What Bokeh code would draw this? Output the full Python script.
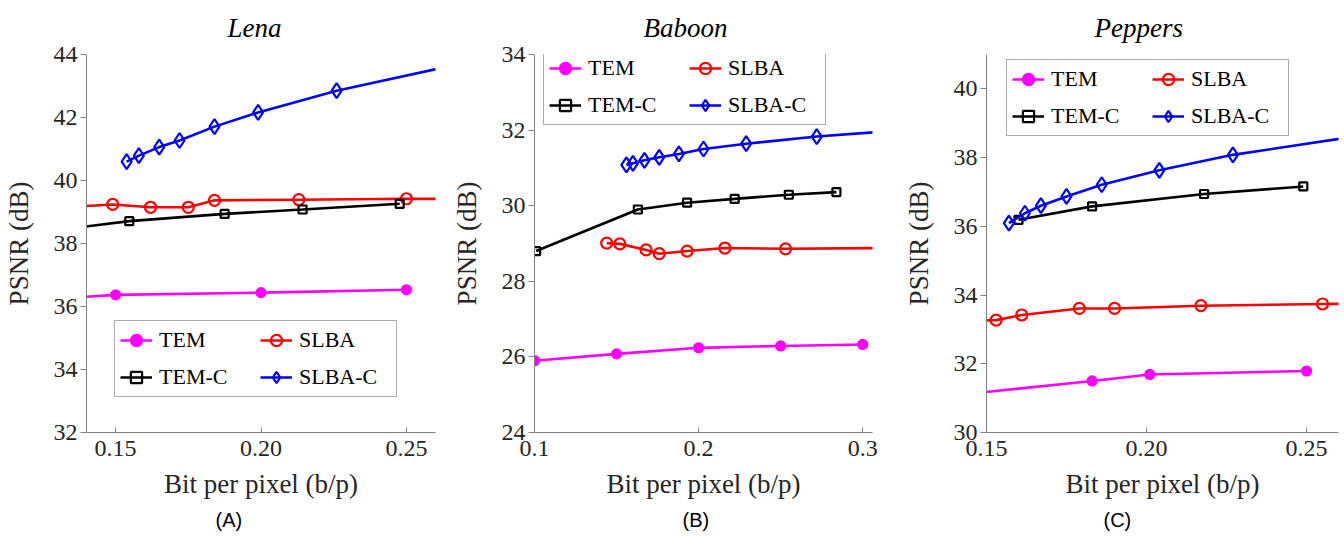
from bokeh.plotting import figure
from bokeh.layouts import row
from bokeh.models import FixedTicker, Range1d, Legend, LegendItem, Title
from bokeh.embed import file_html
from bokeh.resources import INLINE

# ---------------- data ----------------
series_names = ["TEM", "SLBA", "TEM-C", "SLBA-C"]

# Lena
lena_tem_x = [0.10, 0.15, 0.20, 0.25]
lena_tem_y = [36.07, 36.37, 36.44, 36.53]
lena_slba_x = [0.13, 0.149, 0.162, 0.175, 0.184, 0.213, 0.250, 0.30]
lena_slba_y = [39.14, 39.24, 39.15, 39.15, 39.37, 39.39, 39.42, 39.40]
lena_temc_x = [0.125, 0.1547, 0.1875, 0.2143, 0.2477]
lena_temc_y = [38.37, 38.71, 38.94, 39.08, 39.26]
lena_slbac_x = [0.1538, 0.158, 0.165, 0.172, 0.184, 0.199, 0.226, 0.30]
lena_slbac_y = [40.60, 40.79, 41.06, 41.27, 41.71, 42.16, 42.85, 44.33]

# Baboon
baboon_tem_x = [0.100, 0.150, 0.200, 0.250, 0.300]
baboon_tem_y = [25.90, 26.08, 26.24, 26.29, 26.33]
baboon_slba_x = [0.144, 0.152, 0.168, 0.176, 0.193, 0.216, 0.253, 0.35]
baboon_slba_y = [29.01, 28.99, 28.83, 28.73, 28.80, 28.88, 28.86, 28.89]
baboon_temc_x = [0.101, 0.163, 0.193, 0.222, 0.255, 0.284]
baboon_temc_y = [28.80, 29.90, 30.08, 30.18, 30.29, 30.36]
baboon_slbac_x = [0.156, 0.160, 0.167, 0.176, 0.188, 0.203, 0.229, 0.272, 0.35]
baboon_slbac_y = [31.08, 31.12, 31.20, 31.28, 31.37, 31.50, 31.64, 31.83, 32.08]

# Peppers
peppers_tem_x = [0.10, 0.183, 0.201, 0.25]
peppers_tem_y = [30.70, 31.50, 31.69, 31.79]
peppers_slba_x = [0.14, 0.153, 0.161, 0.179, 0.190, 0.217, 0.255, 0.30]
peppers_slba_y = [33.22, 33.27, 33.42, 33.61, 33.61, 33.69, 33.74, 33.76]
peppers_temc_x = [0.160, 0.183, 0.218, 0.249]
peppers_temc_y = [36.19, 36.58, 36.94, 37.16]
peppers_slbac_x = [0.157, 0.162, 0.167, 0.175, 0.186, 0.204, 0.227, 0.30]
peppers_slbac_y = [36.09, 36.38, 36.60, 36.87, 37.21, 37.63, 38.08, 39.10]

lena_xticks = [0.15, 0.20, 0.25]
lena_xlabels = ["0.15", "0.20", "0.25"]
lena_yticks = [32, 34, 36, 38, 40, 42, 44]
baboon_xticks = [0.1, 0.2, 0.3]
baboon_xlabels = ["0.1", "0.2", "0.3"]
baboon_yticks = [24, 26, 28, 30, 32, 34]
peppers_xticks = [0.15, 0.20, 0.25]
peppers_xlabels = ["0.15", "0.20", "0.25"]
peppers_yticks = [30, 32, 34, 36, 38, 40]

SERIF = "Liberation Serif"
AX = "#808080"
TXT = "#262626"


def panel(title, sub, xr, yr, xticks, xlabels, yticks, data, borders, legend_pos,
          title_off, sub_off):
    bl, br = borders
    p = figure(width=448, height=538, output_backend="svg", toolbar_location=None,
               x_range=Range1d(*xr), y_range=Range1d(*yr),
               min_border_left=bl, min_border_right=br,
               min_border_top=54, min_border_bottom=106)
    p.outline_line_color = None
    p.xgrid.visible = False
    p.ygrid.visible = False
    p.background_fill_color = "white"

    p.title.text = title
    p.title.align = "left"
    p.title.offset = title_off
    p.title.vertical_align = "top"
    p.title.text_font = SERIF
    p.title.text_font_style = "italic"
    p.title.text_font_size = "27px"
    p.title.text_color = "black"
    p.title.standoff = 20

    for ax in (p.xaxis[0], p.yaxis[0]):
        ax.axis_line_color = AX
        ax.major_tick_line_color = AX
        ax.minor_tick_line_color = None
        ax.major_label_text_font = SERIF
        ax.major_label_text_font_size = "24px"
        ax.major_label_text_color = TXT
        ax.axis_label_text_font = SERIF
        ax.axis_label_text_font_size = "27px"
        ax.axis_label_text_font_style = "normal"
        ax.axis_label_text_color = TXT

    p.xaxis.ticker = FixedTicker(ticks=xticks)
    p.xaxis.major_label_overrides = {t: l for t, l in zip(xticks, xlabels)}
    p.xaxis.major_tick_in = 5
    p.xaxis.major_tick_out = 0
    p.xaxis.major_label_standoff = 8
    p.xaxis.axis_label = "Bit per pixel (b/p)"
    p.xaxis.axis_label_standoff = 10

    p.yaxis.ticker = FixedTicker(ticks=yticks)
    p.yaxis.major_tick_in = 0
    p.yaxis.major_tick_out = 6
    p.yaxis.major_label_standoff = 3
    p.yaxis.axis_label = "PSNR (dB)"
    p.yaxis.axis_label_standoff = 17

    styles = {
        "TEM": dict(color="#FF00FF", marker="circle", size=9, fill="#FF00FF"),
        "SLBA": dict(color="#FF0000", marker="circle", size=11, fill=None),
        "TEM-C": dict(color="#000000", marker="square", size=8, fill=None),
        "SLBA-C": dict(color="#0000FF", marker="diamond", size=15, fill=None),
    }
    items = {}
    for name in series_names:
        xs, ys = data[name]
        st = styles[name]
        lr = p.line(xs, ys, line_color=st["color"], line_width=2.6)
        sr = p.scatter(xs, ys, marker=st["marker"], size=st["size"],
                       line_color=st["color"], line_width=2.2,
                       fill_color=st["fill"])
        items[name] = LegendItem(label=name, renderers=[lr, sr])

    # column-major fill: first column TEM, TEM-C; second column SLBA, SLBA-C
    leg = Legend(items=[items["TEM"], items["TEM-C"], items["SLBA"], items["SLBA-C"]],
                 ncols=2, location=legend_pos)
    leg.label_text_font = SERIF
    leg.label_text_font_size = "22px"
    leg.label_text_color = "black"
    leg.glyph_width = 32
    leg.glyph_height = 28
    leg.label_height = 28
    leg.label_width = 92
    leg.label_standoff = 7
    leg.spacing = 9
    leg.padding = 5
    leg.margin = 0
    leg.border_line_color = "#595959"
    leg.border_line_width = 1
    leg.background_fill_color = "white"
    leg.background_fill_alpha = 1
    p.add_layout(leg, "center")

    sub_t = Title(text=sub, align="left", offset=sub_off, vertical_align="bottom",
                  text_font="Liberation Sans", text_font_size="20px",
                  text_font_style="normal", text_color="black", standoff=11)
    p.add_layout(sub_t, "below")
    return p


pA = panel("Lena", "(A)", (0.14, 0.26), (32, 44), lena_xticks, lena_xlabels, lena_yticks,
           {"TEM": (lena_tem_x, lena_tem_y), "SLBA": (lena_slba_x, lena_slba_y),
            "TEM-C": (lena_temc_x, lena_temc_y), "SLBA-C": (lena_slbac_x, lena_slbac_y)},
           (84, 13), (28, 35), 141, 129)
pB = panel("Baboon", "(B)", (0.1, 0.306), (24, 34), baboon_xticks, baboon_xlabels, baboon_yticks,
           {"TEM": (baboon_tem_x, baboon_tem_y), "SLBA": (baboon_slba_x, baboon_slba_y),
            "TEM-C": (baboon_temc_x, baboon_temc_y), "SLBA-C": (baboon_slbac_x, baboon_slbac_y)},
           (84, 24), (9, 307), 109, 148)
pC = panel("Peppers", "(C)", (0.15, 0.26), (30, 41), peppers_xticks, peppers_xlabels, peppers_yticks,
           {"TEM": (peppers_tem_x, peppers_tem_y), "SLBA": (peppers_slba_x, peppers_slba_y),
            "TEM-C": (peppers_temc_x, peppers_temc_y), "SLBA-C": (peppers_slbac_x, peppers_slbac_y)},
           (90, 6), (20, 296), 108, 117)

layout = row(pA, pB, pC)
open("out.html", "w").write(file_html(layout, INLINE))
